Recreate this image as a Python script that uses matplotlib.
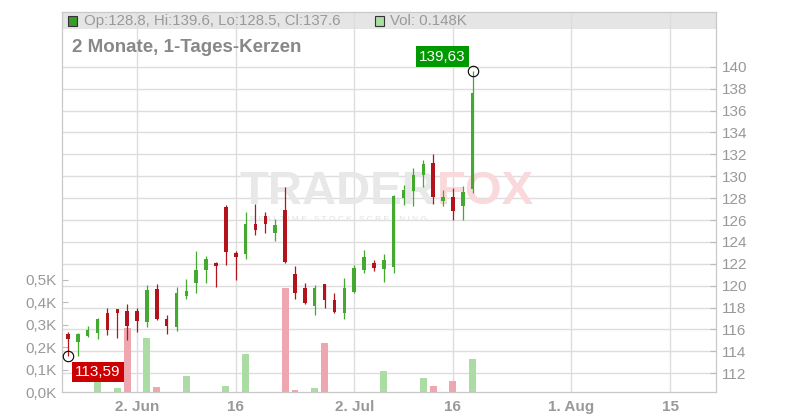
import numpy as np
import matplotlib
matplotlib.use('Agg')
import matplotlib.pyplot as plt
from matplotlib.patches import Rectangle

plt.rcParams['font.family'] = 'Liberation Sans'

# ---------------- data (1-day candles, trading-day index) ----------------
opens = [115.56, 114.89, 115.43, 115.71, 117.47, 117.87, 117.68, 117.68, 116.71, 119.69,
         116.95, 116.26, 119.08, 120.27, 121.42, 122.03, 127.20, 123.00, 122.88, 125.62,
         126.35, 124.77, 126.89, 121.06, 119.78, 118.17, 120.15, 118.69, 117.53, 119.42,
         121.42, 122.03, 121.54, 121.73, 128.02, 128.66, 130.09, 131.21, 127.71, 128.11,
         127.26, 128.80]
highs = [115.80, 115.65, 116.32, 117.08, 117.99, 117.87, 118.32, 117.99, 120.05, 120.15,
         117.32, 119.90, 120.60, 123.16, 122.73, 122.18, 127.35, 123.16, 126.74, 127.44,
         126.74, 126.07, 129.02, 121.79, 120.21, 120.05, 120.15, 119.29, 120.72, 121.88,
         123.25, 122.33, 122.85, 128.26, 129.17, 130.78, 131.45, 132.00, 128.72, 128.93,
         129.08, 139.63]
lows = [113.59, 113.61, 115.34, 115.13, 115.50, 115.25, 115.04, 115.80, 116.26, 116.86,
        115.59, 115.89, 118.75, 119.36, 120.27, 119.90, 121.88, 120.51, 122.43, 124.67,
        124.83, 124.10, 122.03, 118.78, 118.32, 117.32, 117.99, 117.47, 116.95, 119.36,
        121.18, 121.36, 120.36, 121.18, 127.35, 127.26, 129.02, 127.44, 127.26, 125.98,
        125.98, 128.50]
closes = [115.13, 115.59, 115.95, 116.95, 115.95, 117.47, 116.35, 116.80, 119.60, 116.95,
          116.35, 119.29, 119.51, 121.42, 122.40, 121.79, 123.09, 122.64, 125.62, 125.07,
          125.59, 125.53, 122.18, 119.36, 118.44, 119.75, 118.69, 117.62, 119.81, 121.64,
          122.64, 121.64, 122.33, 128.17, 128.72, 130.09, 131.09, 128.11, 128.11, 126.83,
          128.57, 137.60]
volumes = [0, 0, 0, 0.055, 0, 0.019, 0.286, 0, 0.243, 0.022,
           0, 0, 0.073, 0, 0, 0, 0.028, 0, 0.171, 0,
           0, 0, 0.466, 0.010, 0, 0.019, 0.220, 0, 0, 0,
           0, 0, 0.095, 0, 0, 0, 0.064, 0.028, 0, 0.050,
           0, 0.148]  # in K

tick_pos = [7, 17, 29, 39, 51, 61]
tick_labels = ['2. Jun', '16', '2. Jul', '16', '1. Aug', '15']
price_ticks = list(range(112, 141, 2))
vol_ticks = [0.0, 0.1, 0.2, 0.3, 0.4, 0.5]

# ---------------- colours ----------------
RED = '#b3131b'
GREEN = '#43aa2f'
VRED = '#efa7af'
VGREEN = '#aadca4'
GRID = '#dddddd'
TXT = '#999999'

o = np.array(opens); h = np.array(highs); l = np.array(lows); c = np.array(closes)
x = np.arange(len(o))
cols = [GREEN if cc >= oo else RED for oo, cc in zip(o, c)]
vcols = [VGREEN if c[0] >= o[0] else VRED] + \
        [VGREEN if c[i] >= c[i - 1] else VRED for i in range(1, len(c))]

fig = plt.figure(figsize=(8, 4.2), dpi=100)
ax = fig.add_axes([62 / 800, 28 / 420, 654 / 800, 380 / 420])
ax.set_xlim(-0.6, 65.65)
ax.set_ylim(110.29, 145.0)

# volume axis (left) and candle axis on top
axv = ax.twinx()
axv.set_ylim(0, 1.696)
axc = ax.twinx()
axc.set_ylim(ax.get_ylim())
axc.axis('off')

# grid + header band on host axis
ax.set_axisbelow(True)
ax.grid(True, color=GRID, lw=1)
ax.add_patch(Rectangle((0, 1 - 17 / 380), 1, 17 / 380, transform=ax.transAxes,
                       facecolor='#e5e5e5', edgecolor='none', zorder=0.3))

# watermark
ax.text(240 / 800, 1 - 192 / 420, 'TRADER', transform=fig.transFigure, fontsize=34,
        fontweight='bold', color='#e8e8e8', va='center', ha='left', zorder=1)
ax.text(437 / 800, 1 - 192 / 420, 'FOX', transform=fig.transFigure, fontsize=34,
        fontweight='bold', color='#f9d9db', va='center', ha='left', zorder=1)
ax.text(250 / 800, 1 - 219 / 420, ' '.join('REALTIME STOCK SCREENING'), transform=fig.transFigure,
        fontsize=6, color='#e0e0e0', va='center', ha='left', zorder=1)

# volume bars
axv.bar(x, volumes, width=0.7, color=vcols, zorder=2)

# candles
axc.vlines(x, l, h, colors=cols, lw=0.9, zorder=3)
axc.bar(x, np.maximum(np.abs(c - o), 0.12), bottom=np.minimum(o, c), width=0.36,
        color=cols, zorder=4)

# ticks and labels
ax.yaxis.tick_right()
ax.set_yticks(price_ticks)
ax.set_yticklabels([str(p) for p in price_ticks])
ax.tick_params(axis='y', direction='in', length=4, color='#bbbbbb', labelcolor=TXT,
               labelsize=11, pad=4)
ax.set_xticks(tick_pos)
ax.set_xticklabels(tick_labels, fontweight='bold')
ax.tick_params(axis='x', length=0, labelcolor=TXT, labelsize=11, pad=6)

axv.yaxis.tick_left()
axv.set_yticks(vol_ticks)
axv.set_yticklabels([f'{v:.1f}K'.replace('.', ',') for v in vol_ticks])
axv.tick_params(axis='y', direction='in', length=4, color='#bbbbbb', labelcolor=TXT,
                labelsize=11, pad=4)

for a in (ax, axv):
    for s in a.spines.values():
        s.set_color('#c8c8c8')

# high / low markers
imax = int(np.argmax(h))
imin = int(np.argmin(l))
axc.plot([imax], [h[imax]], 'o', ms=7.5, mfc='none', mec='black', mew=0.8, zorder=5)
axc.plot([imin], [l[imin]], 'o', ms=7.5, mfc='none', mec='black', mew=0.8, zorder=5)
axc.annotate(f'{h[imax]:.2f}'.replace('.', ','), xy=(imax, h[imax]), xytext=(-7, 14),
             textcoords='offset pixels', ha='right', va='center', fontsize=11, color='white',
             bbox=dict(boxstyle='square,pad=0.22', fc='#009900', ec='none'), zorder=6)
axc.annotate(f'{l[imin]:.2f}'.replace('.', ','), xy=(imin, l[imin]), xytext=(7, -16),
             textcoords='offset pixels', ha='left', va='center', fontsize=11, color='white',
             bbox=dict(boxstyle='square,pad=0.22', fc='#cc0000', ec='none'), zorder=6)

# header legend
fig.add_artist(Rectangle((68 / 800, 1 - 26 / 420), 9 / 800, 10 / 420, transform=fig.transFigure,
                         facecolor='#3a9a2a', edgecolor='#333333', lw=0.8))
fig.text(84 / 800, 1 - 21 / 420,
         f'Op:{o[-1]:.1f}, Hi:{h[-1]:.1f}, Lo:{l[-1]:.1f}, Cl:{c[-1]:.1f}',
         fontsize=10.8, color=TXT, va='center', ha='left')
fig.add_artist(Rectangle((375 / 800, 1 - 26 / 420), 9 / 800, 10 / 420, transform=fig.transFigure,
                         facecolor=VGREEN, edgecolor='#333333', lw=0.8))
fig.text(390 / 800, 1 - 21 / 420, f'Vol: {volumes[-1]:.3f}K', fontsize=10.8, color=TXT,
         va='center', ha='left')
fig.text(72 / 800, 1 - 48 / 420, '2 Monate, 1-Tages-Kerzen', fontsize=13.5,
         fontweight='bold', color='#888888', va='center', ha='left')

fig.savefig('out.png', dpi=100)
